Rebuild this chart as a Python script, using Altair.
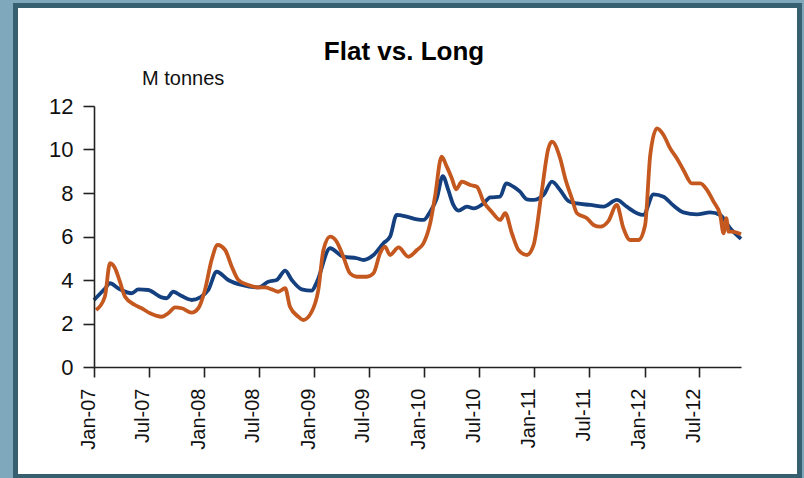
import altair as alt
import pandas as pd

# Flat products, million tonnes
flat_dates = [
    "2007-01-01", "2007-02-06", "2007-02-23", "2007-03-22", "2007-05-06", "2007-05-28",
    "2007-06-30", "2007-08-13", "2007-08-30", "2007-09-21", "2007-10-19", "2007-11-21",
    "2007-12-19", "2008-01-15", "2008-02-12", "2008-03-21", "2008-05-05", "2008-06-29",
    "2008-08-01", "2008-08-29", "2008-09-26", "2008-10-18", "2008-11-20", "2008-12-23",
    "2009-01-09", "2009-02-22", "2009-04-07", "2009-05-22", "2009-06-13", "2009-07-16",
    "2009-08-18", "2009-09-09", "2009-10-01", "2009-11-03", "2009-12-07", "2009-12-29",
    "2010-01-20", "2010-02-11", "2010-03-03", "2010-03-21", "2010-04-07", "2010-04-24",
    "2010-05-22", "2010-06-13", "2010-07-16", "2010-08-07", "2010-09-09", "2010-09-29",
    "2010-10-23", "2010-11-14", "2010-12-07", "2010-12-29", "2011-01-31", "2011-02-28",
    "2011-03-27", "2011-04-24", "2011-05-22", "2011-07-05", "2011-08-18", "2011-10-01",
    "2011-11-03", "2011-12-07", "2011-12-28", "2012-01-31", "2012-03-04", "2012-04-06",
    "2012-05-09", "2012-06-23", "2012-08-06", "2012-09-08", "2012-10-11", "2012-11-16",
]
flat_values = [
    3.08, 3.60, 3.85, 3.62, 3.39, 3.57,
    3.54, 3.20, 3.16, 3.46, 3.26, 3.08,
    3.20, 3.54, 4.38, 4.00, 3.77, 3.66,
    3.92, 4.00, 4.43, 4.00, 3.57, 3.51,
    3.90, 5.46, 5.07, 5.00, 4.92, 5.15,
    5.69, 5.99, 6.99, 6.91, 6.79, 6.76,
    7.14, 7.75, 8.78, 8.14, 7.45, 7.19,
    7.37, 7.29, 7.52, 7.80, 7.83, 8.44,
    8.29, 8.06, 7.71, 7.68, 7.91, 8.52,
    8.14, 7.63, 7.52, 7.45, 7.37, 7.68,
    7.37, 7.07, 6.99, 7.94, 7.83, 7.42,
    7.11, 7.02, 7.11, 6.99, 6.38, 5.89,
]

# Long products, million tonnes
long_dates = [
    "2007-01-08", "2007-02-06", "2007-02-23", "2007-03-12", "2007-03-28", "2007-04-14",
    "2007-05-17", "2007-06-08", "2007-07-06", "2007-08-14", "2007-09-04", "2007-09-27",
    "2007-10-19", "2007-11-21", "2007-12-13", "2008-01-04", "2008-01-26", "2008-02-15",
    "2008-03-11", "2008-04-02", "2008-04-24", "2008-05-27", "2008-06-29", "2008-07-21",
    "2008-08-13", "2008-09-03", "2008-09-26", "2008-10-12", "2008-11-09", "2008-11-25",
    "2008-12-23", "2009-01-14", "2009-01-31", "2009-02-22", "2009-03-16", "2009-04-07",
    "2009-04-29", "2009-05-22", "2009-06-24", "2009-07-16", "2009-08-07", "2009-08-23",
    "2009-09-09", "2009-10-07", "2009-11-09", "2009-12-07", "2009-12-29", "2010-01-20",
    "2010-02-05", "2010-02-27", "2010-03-16", "2010-04-02", "2010-04-16", "2010-05-05",
    "2010-06-02", "2010-06-24", "2010-07-16", "2010-08-12", "2010-09-09", "2010-09-26",
    "2010-10-18", "2010-11-09", "2010-12-07", "2010-12-29", "2011-01-25", "2011-02-16",
    "2011-02-28", "2011-03-27", "2011-04-13", "2011-05-05", "2011-05-22", "2011-06-24",
    "2011-07-16", "2011-08-07", "2011-09-03", "2011-10-01", "2011-10-23", "2011-11-14",
    "2011-12-12", "2012-01-03", "2012-01-20", "2012-02-11", "2012-03-04", "2012-03-26",
    "2012-04-17", "2012-05-09", "2012-06-06", "2012-07-04", "2012-07-26", "2012-08-17",
    "2012-09-08", "2012-09-19", "2012-09-28", "2012-10-06", "2012-10-17", "2012-11-16",
]
long_values = [
    2.62, 3.23, 4.77, 4.54, 3.92, 3.23,
    2.85, 2.70, 2.47, 2.31, 2.47, 2.74,
    2.70, 2.50, 2.70, 3.54, 4.92, 5.61,
    5.38, 4.61, 4.00, 3.77, 3.66, 3.66,
    3.57, 3.46, 3.62, 2.77, 2.31, 2.16,
    2.54, 3.54, 5.38, 5.99, 5.76, 5.07,
    4.31, 4.15, 4.15, 4.31, 5.23, 5.53,
    5.15, 5.50, 5.07, 5.38, 5.69, 6.60,
    7.83, 9.67, 9.21, 8.67, 8.17, 8.52,
    8.37, 8.29, 7.60, 7.14, 6.76, 7.07,
    6.15, 5.38, 5.15, 5.60, 8.06, 10.05,
    10.36, 9.60, 8.67, 7.75, 7.07, 6.84,
    6.53, 6.45, 6.71, 7.45, 6.38, 5.84,
    5.84, 6.53, 9.75, 10.97, 10.67, 10.05,
    9.60, 9.06, 8.44, 8.44, 8.14, 7.60,
    6.99, 6.15, 6.84, 6.22, 6.22, 6.10,
]

y_ticks = [0, 2, 4, 6, 8, 10, 12]
x_tick_months = [(y, m) for y in range(2007, 2013) for m in (1, 7)]

FONT = "Liberation Sans"
FLAT_COLOR = "#15407f"
LONG_COLOR = "#c4581f"

flat_df = pd.DataFrame({"date": flat_dates, "value": flat_values})
long_df = pd.DataFrame({"date": long_dates, "value": long_values})

x_scale = alt.Scale(
    type="utc",
    domain=[alt.DateTime(year=2007, month=1, date=1, utc=True),
            alt.DateTime(year=2012, month=11, date=16, utc=True)],
    nice=False,
)
y_scale = alt.Scale(domain=[0, 12], nice=False)

x_axis = alt.Axis(
    title=None,
    values=[alt.DateTime(year=y, month=m, date=1, utc=True) for y, m in x_tick_months],
    labelExpr="utcFormat(datum.value, '%b-%y')",
    labelAngle=270,
    labelAlign="right",
    labelBaseline="alphabetic",
    labelFont=FONT,
    labelFontSize=20,
    labelColor="#111111",
    labelPadding=11,
    tickSize=10,
    tickColor="#222222",
    tickWidth=1.6,
    domainColor="#222222",
    domainWidth=1.6,
    grid=False,
    zindex=2,
)
y_axis = alt.Axis(
    title=None,
    values=y_ticks,
    labelFont=FONT,
    labelFontSize=22,
    labelColor="#111111",
    labelPadding=10,
    tickSize=11,
    tickColor="#222222",
    tickWidth=1.6,
    domainColor="#222222",
    domainWidth=1.6,
    grid=False,
    zindex=2,
)

one_row = alt.Data(values=[{"k": 0}])

# Dark frame and white panel behind the plot
frame = alt.Chart(one_row).mark_rect(color="#365f6f").encode(
    x=alt.value(-81), x2=alt.value(708), y=alt.value(-103), y2=alt.value(372)
)
panel = alt.Chart(one_row).mark_rect(color="#ffffff").encode(
    x=alt.value(-76), x2=alt.value(703), y=alt.value(-98), y2=alt.value(368)
)

flat_line = alt.Chart(flat_df).mark_line(
    color=FLAT_COLOR, strokeWidth=3.8, interpolate="monotone"
).encode(
    x=alt.X("date:T", scale=x_scale, axis=x_axis),
    y=alt.Y("value:Q", scale=y_scale, axis=y_axis),
)
long_line = alt.Chart(long_df).mark_line(
    color=LONG_COLOR, strokeWidth=3.8, interpolate="monotone"
).encode(
    x=alt.X("date:T", scale=x_scale),
    y=alt.Y("value:Q", scale=y_scale),
)

title = alt.Chart(one_row).mark_text(
    text="Flat vs. Long", font=FONT, fontSize=26, fontWeight="bold",
    color="#000000", align="center", baseline="alphabetic",
).encode(x=alt.value(310), y=alt.value(-46))

unit = alt.Chart(one_row).mark_text(
    text="M tonnes", font=FONT, fontSize=20, color="#111111",
    align="left", baseline="alphabetic",
).encode(x=alt.value(48), y=alt.value(-21))

chart = alt.layer(frame, panel, flat_line, long_line, title, unit).properties(
    width=647,
    height=261,
    autosize=alt.AutoSizeParams(type="none"),
    padding={"left": 94, "top": 106, "right": 63, "bottom": 111},
    background="#7fa8bd",
).configure_view(stroke=None)

chart.save("out.html", embed_options={"renderer": "svg", "actions": False})
